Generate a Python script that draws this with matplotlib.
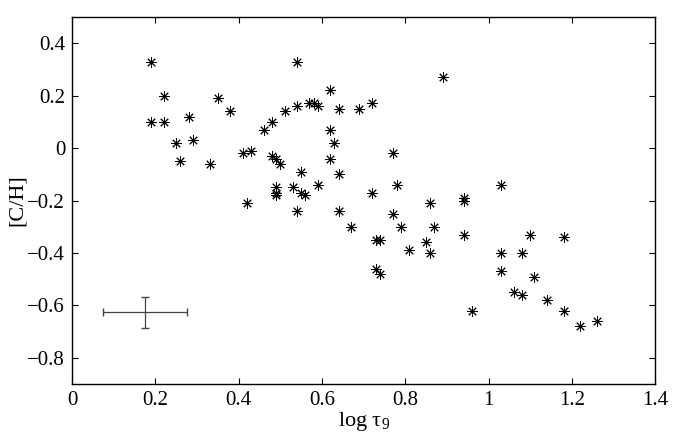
import matplotlib
matplotlib.use('Agg')
import matplotlib.pyplot as plt
import numpy as np

plt.rcParams['font.family'] = ['Liberation Serif', 'DejaVu Serif']
plt.rcParams['mathtext.fontset'] = 'custom'
plt.rcParams['mathtext.rm'] = 'Liberation Serif'
plt.rcParams['mathtext.it'] = 'Liberation Serif'
plt.rcParams['axes.unicode_minus'] = True

# log tau_9 and [C/H]
log_tau = [0.19, 0.19, 0.22, 0.22, 0.28, 0.25, 0.29, 0.26, 0.33, 0.35,
           0.38, 0.41, 0.43, 0.42, 0.46, 0.48, 0.51, 0.54, 0.54, 0.57,
           0.58, 0.59, 0.62, 0.64, 0.69, 0.72, 0.62, 0.63, 0.62, 0.64,
           0.48, 0.49, 0.50, 0.55, 0.49, 0.49, 0.49, 0.53, 0.55, 0.56,
           0.59, 0.54, 0.64, 0.72, 0.89, 0.77, 0.78, 0.86, 0.94, 0.94,
           1.03, 0.77, 0.67, 0.73, 0.74, 0.73, 0.74, 0.79, 0.87, 0.94,
           0.81, 0.85, 0.86, 0.96, 1.03, 1.03, 1.08, 1.10, 1.11, 1.06,
           1.08, 1.14, 1.18, 1.18, 1.22, 1.26]
c_h = [0.33, 0.10, 0.20, 0.10, 0.12, 0.02, 0.03, -0.05, -0.06, 0.19,
       0.14, -0.02, -0.01, -0.21, 0.07, 0.10, 0.14, 0.33, 0.16, 0.17,
       0.17, 0.16, 0.22, 0.15, 0.15, 0.17, 0.07, 0.02, -0.04, -0.10,
       -0.03, -0.04, -0.06, -0.09, -0.15, -0.17, -0.18, -0.15, -0.17, -0.18,
       -0.14, -0.24, -0.24, -0.17, 0.27, -0.02, -0.14, -0.21, -0.19, -0.20,
       -0.14, -0.25, -0.30, -0.35, -0.35, -0.46, -0.48, -0.30, -0.30, -0.33,
       -0.39, -0.36, -0.40, -0.62, -0.40, -0.47, -0.40, -0.33, -0.49, -0.55,
       -0.56, -0.58, -0.34, -0.62, -0.68, -0.66]

# typical error bar
err_x, err_y = 0.175, -0.627
err_dx, err_dy = 0.10, 0.06

fig = plt.figure(figsize=(6.74, 4.34), dpi=100)
ax = fig.add_axes([0.107, 0.115, 0.865, 0.846])

ax.plot(log_tau, c_h, linestyle='none', marker=(8, 2, 0), markersize=7.5,
        color='black', markeredgewidth=0.7)
ax.errorbar([err_x], [err_y], xerr=[err_dx], yerr=[err_dy], fmt='none',
            ecolor='#444444', elinewidth=0.9, capsize=3)

ax.set_xlim(0, 1.4)
ax.set_ylim(-0.9, 0.5)
ax.set_xticks(np.arange(0, 1.41, 0.2))
ax.set_xticklabels(['0', '0.2', '0.4', '0.6', '0.8', '1', '1.2', '1.4'])
yt = np.arange(-0.8, 0.41, 0.2)
ax.set_yticks(yt)
ax.set_yticklabels(['\u22120.8', '\u22120.6', '\u22120.4', '\u22120.2',
                    '0', '0.2', '0.4'])
ax.tick_params(direction='in', top=True, right=True, labelsize=15,
               length=4, width=0.8, pad=5)
for s in ax.spines.values():
    s.set_linewidth(1.0)

ax.set_xlabel('log \u03c4$_9$', fontsize=16, labelpad=0)
ax.set_ylabel('[C/H]', fontsize=16, labelpad=0)

fig.savefig('out.png', dpi=100)
